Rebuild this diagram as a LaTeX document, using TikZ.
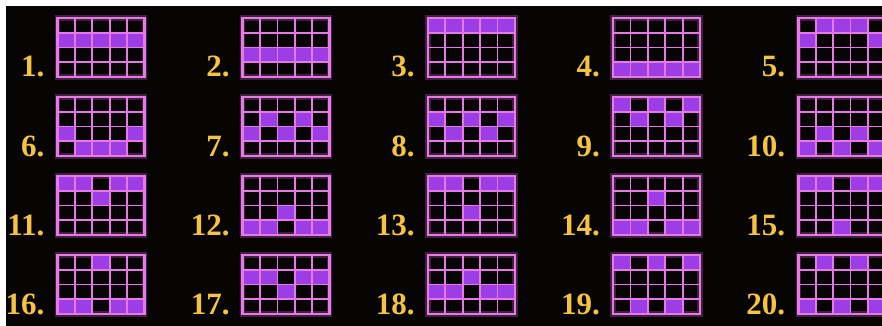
\documentclass[tikz,border=0pt]{standalone}
\usepackage{fontspec}
\newfontfamily\lblfont{Liberation Serif}
\usetikzlibrary{calc}
\definecolor{bg}{HTML}{070504}
\definecolor{gridline}{HTML}{E878E8}
\definecolor{cellon}{HTML}{9C3DE6}
\definecolor{gold}{HTML}{F5C242}
\tikzset{
  gridbox/.style={draw=gridline, line width=2.6pt, minimum width=87pt, minimum height=59pt,
    inner sep=0pt, outer sep=0pt, anchor=north west},
  gridglow/.style={draw=gridline, line width=5.5pt, opacity=0.25},
  gridinner/.style={draw=gridline, line width=1.8pt},
  cellfill/.style={fill=cellon},
  lbl/.style={text=gold, font=\lblfont\bfseries\fontsize{31}{31}\selectfont, inner sep=0pt, anchor=base east},
}
\begin{document}
\begin{tikzpicture}[x=1pt,y=-1pt]
\useasboundingbox (0,0) rectangle (882,326);
\fill[white] (0,0) rectangle (882,326);
\fill[bg] (6,6) rectangle (882,326);
\clip (0,0) rectangle (882,326);
\foreach \n/\cells in {
  1/{1/2,2/2,3/2,4/2,5/2},
  2/{1/3,2/3,3/3,4/3,5/3},
  3/{1/1,2/1,3/1,4/1,5/1},
  4/{1/4,2/4,3/4,4/4,5/4},
  5/{2/1,3/1,4/1,1/2,5/2},
  6/{1/3,5/3,2/4,3/4,4/4},
  7/{2/2,4/2,1/3,3/3,5/3},
  8/{1/2,3/2,5/2,2/3,4/3},
  9/{1/1,3/1,5/1,2/2,4/2},
  10/{2/3,4/3,1/4,3/4,5/4},
  11/{1/1,2/1,4/1,5/1,3/2},
  12/{3/3,1/4,2/4,4/4,5/4},
  13/{1/1,2/1,4/1,5/1,3/3},
  14/{3/2,1/4,2/4,4/4,5/4},
  15/{1/1,2/1,4/1,5/1,3/4},
  16/{3/1,1/4,2/4,4/4,5/4},
  17/{1/2,2/2,4/2,5/2,3/3},
  18/{3/2,1/3,2/3,4/3,5/3},
  19/{1/1,3/1,5/1,2/4,4/4},
  20/{2/1,4/1,1/4,3/4,5/4}}{
  \pgfmathsetmacro\gx{57.5+185.2*mod(\n-1,5)}
  \pgfmathsetmacro\gy{18+79*div(\n-1,5)}
  \draw[gridglow] (\gx,\gy) rectangle ++(87,59);
  \foreach \c/\r in \cells {
    \fill[cellfill] (\gx+\c*17.4-17.4,\gy+\r*14.75-14.75) rectangle ++(17.4,14.75);
  }
  \foreach \i in {1,...,4} {
    \draw[gridinner] (\gx+\i*17.4,\gy) -- ++(0,59);
  }
  \foreach \j in {1,...,3} {
    \draw[gridinner] (\gx,\gy+\j*14.75) -- ++(87,0);
  }
  \node[gridbox] (g\n) at (\gx,\gy) {};
  \node[lbl] (l\n) at (\gx-13,\gy+59) {\n.};
}
\end{tikzpicture}
\end{document}
